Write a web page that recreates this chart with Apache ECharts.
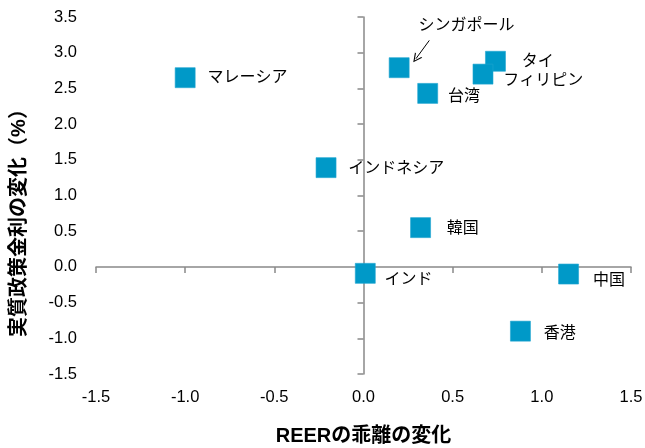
<!DOCTYPE html>
<html>
<head>
<meta charset="utf-8">
<script src="https://cdn.jsdelivr.net/npm/echarts@6/dist/echarts.min.js"></script>
<style>
  html, body { margin: 0; padding: 0; background: #fff; }
  #chart { width: 645px; height: 448px; }
</style>
</head>
<body>
<div id="chart"></div>
<script>
// Economies plotted, with change in REER misalignment (x) and change in real policy rate (y, %)
const categories = ['マレーシア', 'シンガポール', 'タイ', 'フィリピン', '台湾', 'インドネシア', '韓国', 'インド', '中国', '香港'];
const reerChange = [-1.0, 0.20, 0.74, 0.67, 0.36, -0.21, 0.32, 0.01, 1.15, 0.88];
const policyRateChange = [2.65, 2.79, 2.88, 2.70, 2.43, 1.39, 0.55, -0.09, -0.10, -0.90];

// Axis ranges and tick step
const xRange = [-1.5, 1.5];
const yRange = [-1.5, 3.5];
const tickStep = 0.5;

// Label placement next to each marker (pixels, relative to the marker's right edge)
const labelOffsets = {
  'マレーシア': [12, 0],
  'シンガポール': [9, -42],
  'タイ': [16, 0],
  'フィリピン': [10, 6],
  '台湾': [10, 3],
  'インドネシア': [12, 1],
  '韓国': [16, 1],
  'インド': [9, 6],
  '中国': [14, 7],
  '香港': [13, 2]
};

const AXIS_GRAY = '#898989';
const MARKER = '#0099C8';
const FONT = '"Liberation Sans", Arial, "Noto Sans CJK JP", sans-serif';

const points = categories.map((name, i) => ({
  name: name,
  value: [reerChange[i], policyRateChange[i]],
  label: { offset: labelOffsets[name] }
}));

const fmt = v => v.toFixed(1);

const chart = echarts.init(document.getElementById('chart'), null, { renderer: 'canvas' });

chart.setOption({
  animation: false,
  backgroundColor: '#ffffff',
  grid: { left: 96, right: 14, top: 17, bottom: 74, containLabel: false, outerBoundsMode: 'none' },
  xAxis: [
    {
      // bottom labels and title
      type: 'value', min: xRange[0], max: xRange[1], interval: tickStep,
      position: 'bottom',
      axisLine: { show: false, onZero: false },
      axisTick: { show: false },
      splitLine: { show: false },
      axisLabel: { formatter: fmt, color: '#000', fontSize: 16.5, fontFamily: FONT, margin: 15 },
      name: 'REERの乖離の変化',
      nameLocation: 'middle',
      nameGap: 52,
      nameTextStyle: { color: '#000', fontSize: 20, fontWeight: 'bold', fontFamily: FONT }
    },
    {
      // horizontal line through y = 0 with its ticks
      type: 'value', min: xRange[0], max: xRange[1], interval: tickStep,
      position: 'bottom',
      axisLine: { show: true, onZero: true, onZeroAxisIndex: 0, lineStyle: { color: AXIS_GRAY, width: 1.5 } },
      axisTick: { show: true, length: 6, lineStyle: { color: AXIS_GRAY, width: 1.5 } },
      splitLine: { show: false },
      axisLabel: { show: false }
    }
  ],
  yAxis: [
    {
      // left labels and title
      type: 'value', min: yRange[0], max: yRange[1], interval: tickStep,
      position: 'left',
      axisLine: { show: false, onZero: false },
      axisTick: { show: false },
      splitLine: { show: false },
      axisLabel: { formatter: fmt, color: '#000', fontSize: 16.5, fontFamily: FONT, margin: 19 },
      name: '実質政策金利の変化（%）',
      nameLocation: 'middle',
      nameGap: 67,
      nameTextStyle: { color: '#000', fontSize: 20, fontWeight: 'bold', fontFamily: FONT, padding: [0, 45, 0, 0] }
    },
    {
      // vertical line through x = 0 with its ticks
      type: 'value', min: yRange[0], max: yRange[1], interval: tickStep,
      position: 'left',
      axisLine: { show: true, onZero: true, onZeroAxisIndex: 0, lineStyle: { color: AXIS_GRAY, width: 1.5 } },
      axisTick: { show: true, length: 6, lineStyle: { color: AXIS_GRAY, width: 1.5 } },
      splitLine: { show: false },
      axisLabel: { show: false }
    }
  ],
  series: [
    {
      type: 'scatter',
      xAxisIndex: 0,
      yAxisIndex: 0,
      symbol: 'rect',
      symbolSize: 20,
      itemStyle: { color: MARKER, opacity: 1, borderColor: '#1ea4d0', borderWidth: 0.6 },
      label: {
        show: true,
        position: 'right',
        distance: 0,
        formatter: p => p.name,
        color: '#000',
        fontSize: 16,
        fontFamily: FONT
      },
      data: points,
      markLine: {
        silent: true,
        animation: false,
        symbol: ['none', 'path://M0,10 L5,0 L10,10 L8.6,10 L5,2.6 L1.4,10 Z'],
        symbolSize: [9, 9],
        lineStyle: { color: '#000', width: 1, type: 'solid' },
        label: { show: false },
        data: [[{ coord: [0.369, 3.172] }, { coord: [0.294, 2.916] }]]
      }
    }
  ]
});
</script>
</body>
</html>
